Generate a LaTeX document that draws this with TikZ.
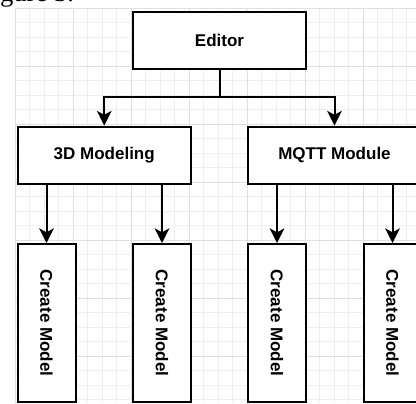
\documentclass[tikz,border=0pt]{standalone}
\usepackage{fontspec}
\setmainfont{Liberation Sans}
\newfontfamily\capfont{Liberation Serif}
\usetikzlibrary{arrows.meta}

\definecolor{gridminor}{HTML}{EFEFEF}
\definecolor{gridmajor}{HTML}{E0E0E0}

\tikzset{
  box/.style={draw=black, line width=1.5pt, fill=white, inner sep=0pt,
    font=\bfseries\fontsize{12.75}{15}\selectfont},
  wide/.style={box, minimum width=129.8pt, minimum height=43.1pt},
  tall/.style={box, minimum width=43.5pt, minimum height=118.5pt},
  arr/.style={line width=1.5pt, -{Stealth[length=11pt, width=11pt, inset=3pt]}},
  minorline/.style={gridminor, line width=0.6pt},
  majorline/.style={gridmajor, line width=0.6pt}
}

\begin{document}
\begin{tikzpicture}[x=0.75pt, y=-0.75pt]
  \useasboundingbox (0,0) rectangle (416,403);
  \clip (0,0) rectangle (416,403);

  % background grid
  \foreach \k in {0,...,27} {
    \pgfmathsetmacro{\gx}{15+14.5*\k}
    \pgfmathsetmacro{\gy}{8+14.5*\k}
    \draw[minorline] (\gx,8) -- (\gx,403);
    \draw[minorline] (15,\gy) -- (416,\gy);
  }
  \foreach \k in {0,4,...,24} {
    \pgfmathsetmacro{\gx}{15+14.5*\k}
    \pgfmathsetmacro{\gy}{8+14.5*\k}
    \draw[majorline] (\gx,8) -- (\gx,403);
    \draw[majorline] (15,\gy) -- (416,\gy);
  }

  % caption above the diagram
  \node[anchor=base west, inner sep=0pt, font=\capfont\fontsize{20}{24}\selectfont]
    (cap) at (-22.5,1.5) {Figure 3.};

  % boxes
  \node[wide] (ed)   at (219.5,40.25)  {Editor};
  \node[wide] (m3d)  at (104.25,155.25) {3D Modeling};
  \node[wide] (mqtt) at (334.5,155.25)  {MQTT Module};

  \node[tall] (c1) at (46.5,323)  {\rotatebox{-90}{Create Model}};
  \node[tall] (c2) at (162,323)   {\rotatebox{-90}{Create Model}};
  \node[tall] (c3) at (277,323)   {\rotatebox{-90}{Create Model}};
  \node[tall] (c4) at (392.5,323) {\rotatebox{-90}{Create Model}};

  % connectors
  \coordinate (split) at (219.5,97.3);
  \draw[line width=1.5pt] (ed.south) -- (split);
  \draw[arr] (split) -| (m3d.north);
  \draw[arr] (split) -| (mqtt.north);

  \draw[arr] (c1.north |- m3d.south) -- (c1.north);
  \draw[arr] (c2.north |- m3d.south) -- (c2.north);
  \draw[arr] (c3.north |- mqtt.south) -- (c3.north);
  \draw[arr] (c4.north |- mqtt.south) -- (c4.north);
\end{tikzpicture}
\end{document}
